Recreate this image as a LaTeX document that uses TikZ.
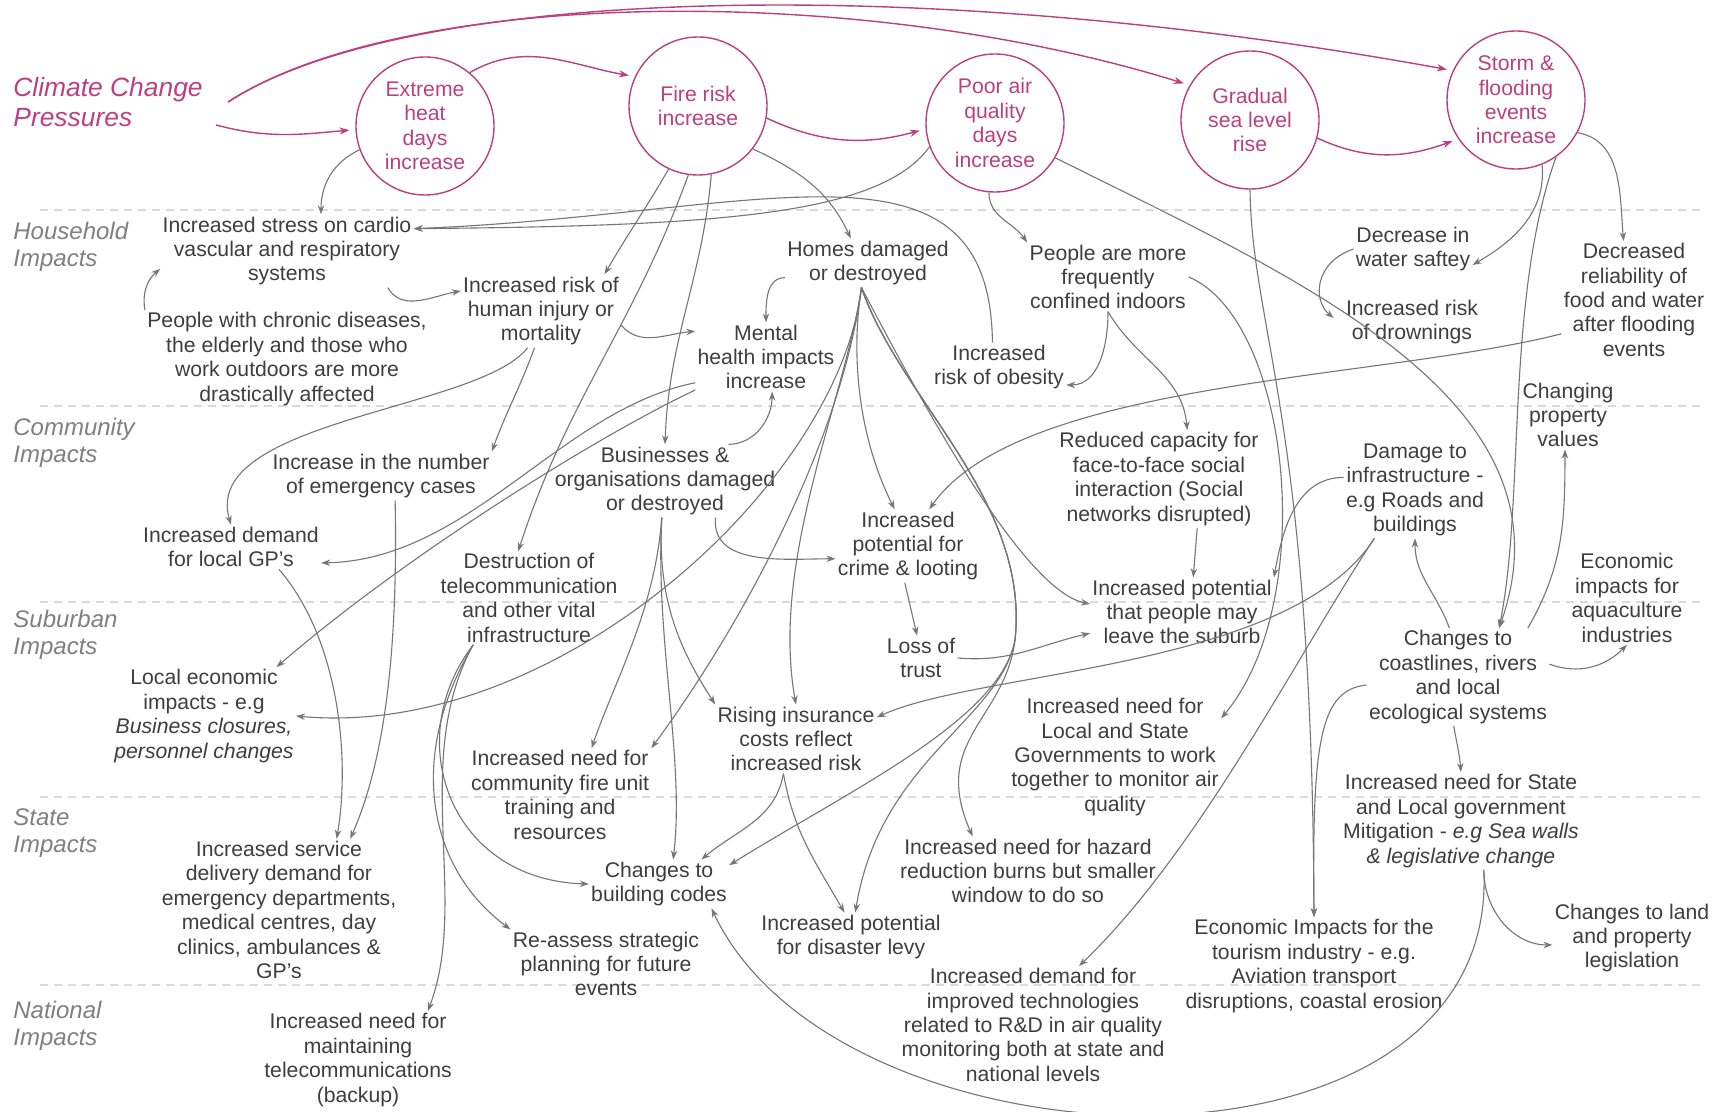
\documentclass[tikz,border=0pt]{standalone}
\usepackage{fontspec}
\setmainfont{Liberation Sans}
\usetikzlibrary{arrows.meta}
\definecolor{pinkc}{RGB}{188,64,128}
\definecolor{textc}{RGB}{62,62,62}
\definecolor{lanec}{RGB}{128,128,128}
\definecolor{linec}{RGB}{118,118,118}
\definecolor{sepc}{RGB}{218,218,218}
\newcommand{\boxfont}{\fontsize{10.6}{12.2}\selectfont}
\newcommand{\lanefont}{\fontsize{12}{13.6}\selectfont\itshape}
\newcommand{\ccfont}{\fontsize{13.2}{15}\selectfont\itshape}
\tikzset{
	pressure/.style={shape=circle, draw=pinkc, line width=0.7pt, minimum size=69pt, inner sep=0pt, align=center, text=pinkc, font=\boxfont},
	impact/.style={align=center, text=textc, font=\boxfont, inner sep=1pt},
	lane/.style={anchor=west, align=left, inner sep=0pt, text=lanec, font=\lanefont},
	arr/.style={draw=linec, line width=0.55pt, -{Stealth[length=4.5pt,width=3.2pt]}},
	parr/.style={draw=pinkc, line width=0.7pt, -{Stealth[length=5pt,width=3.6pt]}, shorten >=3pt},
	sep/.style={draw=sepc, line width=0.55pt, dash pattern=on 4pt off 3pt}
}
\begin{document}
\begin{tikzpicture}[x=0.5pt,y=-0.5pt]
	\path[fill=white, use as bounding box] (0,0) rectangle (1731,1112);
	\foreach \y in {210,406,602,797,985}
		\draw[sep] (40,\y) -- (1705,\y);

	\node[lane, text=pinkc, font=\ccfont] (cc) at (13,102) {Climate Change\\Pressures};
	\node[lane] (household) at (13,247) {Household\\Impacts};
	\node[lane] (community) at (13,443) {Community\\Impacts};
	\node[lane] (suburban) at (13,635) {Suburban\\Impacts};
	\node[lane] (state) at (13,833) {State\\Impacts};
	\node[lane] (national) at (13,1026) {National\\Impacts};

	\node[pressure] (heat) at (425,126) {Extreme\\heat\\days\\increase};
	\node[pressure] (fire) at (698,106) {Fire risk\\increase};
	\node[pressure] (air) at (995,123) {Poor air\\quality\\days\\increase};
	\node[pressure] (sea) at (1250,120) {Gradual\\sea level\\rise};
	\node[pressure] (storm) at (1516,100) {Storm \&\\flooding\\events\\increase};

	\node[impact] (stress) at (287,251) {Increased stress on cardio\\vascular and respiratory\\systems};
	\node[impact] (chronic) at (287,359) {People with chronic diseases,\\the elderly and those who\\work outdoors are more\\drastically affected};
	\node[impact] (injury) at (541,311) {Increased risk of\\human injury or\\mortality};
	\node[impact] (homes) at (868,263) {Homes damaged\\or destroyed};
	\node[impact] (mental) at (766,357) {Mental\\health impacts\\increase};
	\node[impact] (indoors) at (1108,277) {People are more\\frequently\\confined indoors};
	\node[impact] (obesity) at (999,367) {Increased\\risk of obesity};
	\node[impact] (water) at (1413,249) {Decrease in\\water saftey};
	\node[impact] (drown) at (1412,322) {Increased risk\\of drownings};
	\node[impact] (food) at (1634,300) {Decreased\\reliability of\\food and water\\after flooding\\events};
	\node[impact] (property) at (1568,415) {Changing\\property\\values};

	\node[impact] (emerg) at (381,476) {Increase in the number\\of emergency cases};
	\node[impact] (gp) at (231,547) {Increased demand\\for local GP's};
	\node[impact] (business) at (665,481) {Businesses \&\\organisations damaged\\or destroyed};
	\node[impact] (telecom) at (529,598) {Destruction of\\telecommunication\\and other vital\\infrastructure};
	\node[impact] (crime) at (908,546) {Increased\\potential for\\crime \& looting};
	\node[impact] (social) at (1159,479) {Reduced capacity for\\face-to-face social\\interaction (Social\\networks disrupted)};
	\node[impact] (infra) at (1415,490) {Damage to\\infrastructure -\\e.g Roads and\\buildings};
	\node[impact] (aqua) at (1627,598) {Economic\\impacts for\\aquaculture\\industries};

	\node[impact] (localecon) at (204,716) {Local economic\\impacts - e.g\\\textit{Business closures,}\\\textit{personnel changes}};
	\node[impact] (leave) at (1182,612) {Increased potential\\that people may\\leave the suburb};
	\node[impact] (trust) at (921,658) {Loss of\\trust};
	\node[impact] (coast) at (1458,677) {Changes to\\coastlines, rivers\\and local\\ecological systems};
	\node[impact] (insurance) at (796,739) {Rising insurance\\costs reflect\\increased risk};
	\node[impact] (firetrain) at (560,795) {Increased need for\\community fire unit\\training and\\resources};
	\node[impact] (monitor) at (1115,757) {Increased need for\\Local and State\\Governments to work\\together to monitor air\\quality};

	\node[impact] (service) at (279,910) {Increased service\\delivery demand for\\emergency departments,\\medical centres, day\\clinics, ambulances \&\\GP's};
	\node[impact] (codes) at (659,884) {Changes to\\building codes};
	\node[impact] (planning) at (606,964) {Re-assess strategic\\planning for future\\events};
	\node[impact] (levy) at (851,937) {Increased potential\\for disaster levy};
	\node[impact] (hazard) at (1028,871) {Increased need for hazard\\reduction burns but smaller\\window to do so};
	\node[impact] (mitig) at (1461,821) {Increased need for State\\and Local government\\Mitigation - \textit{e.g Sea walls}\\\textit{\& legislative change}};
	\node[impact] (tourism) at (1314,966) {Economic Impacts for the\\tourism industry - e.g.\\Aviation transport\\disruptions, coastal erosion};
	\node[impact] (land) at (1632,938) {Changes to land\\and property\\legislation};
	\node[impact] (tech) at (1033,1025) {Increased demand for\\improved technologies\\related to R\&D in air quality\\monitoring both at state and\\national levels};
	\node[impact] (backup) at (358,1060) {Increased need for\\maintaining\\telecommunications\\(backup)};

	\draw[parr] ([shift={(13,23)}]cc.east) to[out=-15,in=185] (heat.183);
	\draw[parr] ([shift={(25,0)}]cc.east) .. controls (400,-10) and (900,-30) .. (storm.155);
	\draw[parr] ([shift={(25,0)}]cc.east) .. controls (400,-10) and (850,-20) .. (sea.150);
	\draw[parr] (heat.50) to[out=30,in=170] (fire.155);
	\draw[parr] (fire.-10) to[out=-25,in=195] (air.185);
	\draw[parr] (sea.-15) to[out=-25,in=200] (storm.214);

	\draw[arr] (heat.200) to[out=205,in=90] ([shift={(34,0)}]stress.north);
	\draw[arr] (air.200) .. controls (880,215) and (720,226) .. (stress.10);
	\draw[arr] (obesity.105) .. controls (990,120) and (760,215) .. (stress.10);
	\draw[arr] (chronic.north west) to[out=100,in=-140] (stress.188);
	\draw[arr] (stress.-20) to[out=-60,in=190] (injury.166);
	\draw[arr] (fire.245) to[out=240,in=60] (injury.30);
	\draw[arr] (fire.262) to[out=250,in=72] (telecom.103);
	\draw[arr] (fire.281) to[out=265,in=88] (business.north);
	\draw[arr] (fire.-38) to[out=-25,in=115] (homes.125);
	\draw[arr] (homes.190) to[out=180,in=90] (mental.north);
	\draw[arr] (injury.-10) to[out=-50,in=185] (mental.160);
	\draw[arr] (mental.200) .. controls (560,410) and (470,560) .. (gp.-10);
	\draw[arr] (mental.205) .. controls (590,440) and (400,560) .. (localecon.34);
	\draw[arr] (injury.-100) to[out=250,in=70] (emerg.north east);
	\draw[arr] (injury.-110) .. controls (480,410) and (200,420) .. (gp.north);
	\draw[arr] (gp.-25) .. controls (340,640) and (350,760) .. (service.51);
	\draw[arr] (emerg.-60) .. controls (398,650) and (385,760) .. (service.45);
	\draw[arr] (telecom.-140) .. controls (400,740) and (450,880) .. (codes.west);
	\draw[arr] (telecom.-140) .. controls (405,760) and (430,870) .. (planning.north west);
	\draw[arr] (telecom.-140) .. controls (410,760) and (470,900) .. (backup.35);
	\draw[arr] (business.30) to[out=0,in=-90] (mental.-80);
	\draw[arr] (business.-36) to[out=-95,in=180] (crime.190);
	\draw[arr] (business.-95) .. controls (655,640) and (685,760) .. (codes.60);
	\draw[arr] (business.-95) .. controls (655,610) and (615,680) .. (firetrain.56);
	\draw[arr] (business.-95) .. controls (657,600) and (680,650) .. (insurance.north west);
	\draw[arr] (homes.-105) .. controls (850,360) and (860,440) .. (crime.110);
	\draw[arr] (homes.-105) .. controls (845,400) and (770,560) .. (insurance.north);
	\draw[arr] (homes.-105) .. controls (845,420) and (760,600) .. (firetrain.north east);
	\draw[arr] (homes.-105) .. controls (840,480) and (560,740) .. (localecon.east);
	\draw[arr] (homes.-105) .. controls (910,380) and (1020,590) .. (leave.175);
	\draw[arr] (homes.-105) .. controls (900,400) and (1030,500) .. (1015,640) .. controls (1000,720) and (850,790) .. (codes.15);
	\draw[arr] (homes.-105) .. controls (900,400) and (1030,500) .. (1015,640) .. controls (1000,720) and (880,760) .. (levy.80);
	\draw[arr] (homes.-105) .. controls (900,400) and (1030,500) .. (1015,640) .. controls (1005,720) and (930,740) .. (hazard.148);
	\draw[arr] (insurance.-110) to[out=-100,in=40] (codes.30);
	\draw[arr] (insurance.-110) to[out=-80,in=120] (levy.105);
	\draw[arr] (crime.-95) -- (trust.100);
	\draw[arr] (trust.east) to[out=-5,in=193] (leave.193);
	\draw[arr] (social.-52) -- (leave.72);
	\draw[arr] (infra.170) to[out=180,in=80] (leave.north east);
	\draw[arr] (infra.-130) .. controls (1290,670) and (980,670) .. (insurance.15);
	\draw[arr] (infra.-130) .. controls (1300,650) and (1200,850) .. (tech.52);
	\draw[arr] (indoors.east) .. controls (1290,320) and (1320,600) .. (monitor.20);
	\draw[arr] (indoors.south) to[out=-90,in=0] (obesity.-15);
	\draw[arr] (indoors.south) to[out=-60,in=95] (social.60);
	\draw[arr] (air.-95) to[out=-90,in=125] (indoors.north west);
	\draw[arr] (air.-30) .. controls (1300,280) and (1580,400) .. (coast.50);
	\draw[arr] (storm.-55) .. controls (1505,300) and (1525,500) .. (coast.50);
	\draw[arr] (storm.-68) to[out=-85,in=30] (water.-15);
	\draw[arr] (water.west) .. controls (1315,262) and (1312,300) .. ([shift={(-10,-4)}]drown.west);
	\draw[arr] (storm.-28) to[out=-10,in=95] (food.100);
	\draw[arr] (food.205) .. controls (1380,380) and (1020,380) .. (crime.60);
	\draw[arr] (coast.100) to[out=110,in=-90] (infra.south);
	\draw[arr] (coast.35) to[out=60,in=-90] (property.-95);
	\draw[arr] (coast.8) to[out=-20,in=225] (aqua.south);
	\draw[arr] (coast.-95) to[out=-80,in=95] (mitig.north);
	\draw[arr] (coast.185) .. controls (1320,690) and (1312,740) .. (tourism.north);
	\draw[arr] (sea.south) .. controls (1252,330) and (1312,420) .. (tourism.north);
	\draw[arr] (mitig.-65) to[out=-90,in=180] (land.185);
	\draw[arr] (mitig.-65) .. controls (1500,1200) and (840,1180) .. (codes.-25);
\end{tikzpicture}
\end{document}
